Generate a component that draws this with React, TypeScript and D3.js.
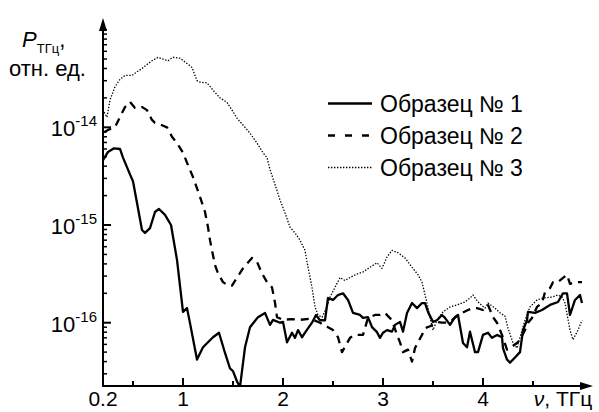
import React from 'react';
import * as d3 from 'd3';

// ν, THz and P (rel. units) for each sample
const nu1 = [0.2, 0.25, 0.31, 0.37, 0.4, 0.47, 0.5, 0.59, 0.62, 0.67, 0.72, 0.76, 0.82, 0.88, 0.94, 1.0, 1.04, 1.07, 1.14, 1.2, 1.3, 1.36, 1.42, 1.47, 1.5, 1.54, 1.57, 1.62, 1.67, 1.75, 1.82, 1.87, 1.9, 1.97, 2.0, 2.04, 2.09, 2.12, 2.15, 2.19, 2.22, 2.29, 2.33, 2.37, 2.42, 2.45, 2.5, 2.55, 2.6, 2.65, 2.7, 2.77, 2.8, 2.85, 2.89, 2.94, 2.97, 3.0, 3.04, 3.09, 3.12, 3.17, 3.2, 3.24, 3.29, 3.34, 3.39, 3.42, 3.45, 3.5, 3.54, 3.59, 3.62, 3.67, 3.72, 3.75, 3.8, 3.84, 3.87, 3.92, 3.95, 4.0, 4.05, 4.09, 4.14, 4.19, 4.2, 4.24, 4.27, 4.32, 4.37, 4.4, 4.44, 4.45, 4.52, 4.59, 4.67, 4.75, 4.8, 4.84, 4.87, 4.92, 4.97, 4.99];
const p1 = [4.6e-15, 5.6e-15, 6.1e-15, 6.0e-15, 4.9e-15, 3.3e-15, 2.8e-15, 8.9e-16, 8.3e-16, 9.3e-16, 1.36e-15, 1.46e-15, 1.27e-15, 1.0e-15, 4.4e-16, 1.29e-16, 1.41e-16, 9.9e-17, 4.2e-17, 5.6e-17, 7.1e-17, 7.9e-17, 4.9e-17, 3.4e-17, 3.2e-17, 2.5e-17, 2.2e-17, 5.6e-17, 9.0e-17, 1.14e-16, 1.26e-16, 9.5e-17, 1.07e-16, 1.0e-16, 1.02e-16, 6.3e-17, 7.9e-17, 7.0e-17, 8.4e-17, 7.1e-17, 7.9e-17, 1.0e-16, 1.2e-16, 1.06e-16, 1.06e-16, 1.79e-16, 1.71e-16, 1.92e-16, 2.0e-16, 1.71e-16, 1.26e-16, 1.2e-16, 1.12e-16, 1.14e-16, 9.0e-17, 8.0e-17, 7.0e-17, 7.9e-17, 8.4e-17, 8.1e-17, 9.5e-17, 1.02e-16, 8.1e-17, 1.26e-16, 1.59e-16, 1.41e-16, 1.59e-16, 1.59e-16, 1.29e-16, 1.02e-16, 1.06e-16, 1.2e-16, 1.12e-16, 9.5e-17, 1.14e-16, 1.2e-16, 6.2e-17, 5.6e-17, 8.1e-17, 5.0e-17, 5.0e-17, 7.5e-17, 7.9e-17, 7.0e-17, 7.5e-17, 7.1e-17, 5.5e-17, 4.2e-17, 3.9e-17, 4.4e-17, 5.0e-17, 8.4e-17, 1.06e-16, 1.29e-16, 1.26e-16, 1.35e-16, 1.52e-16, 1.63e-16, 2.0e-16, 2.0e-16, 1.2e-16, 1.71e-16, 1.92e-16, 1.59e-16];

const nu2 = [0.21, 0.25, 0.32, 0.37, 0.42, 0.47, 0.52, 0.59, 0.64, 0.69, 0.72, 0.79, 0.84, 0.89, 0.94, 1.0, 1.05, 1.1, 1.17, 1.22, 1.25, 1.27, 1.29, 1.32, 1.35, 1.4, 1.45, 1.49, 1.54, 1.6, 1.69, 1.74, 1.79, 1.84, 1.89, 1.92, 1.94, 2.0, 2.09, 2.17, 2.27, 2.37, 2.45, 2.5, 2.55, 2.59, 2.63, 2.67, 2.72, 2.8, 2.85, 2.92, 2.97, 3.02, 3.09, 3.14, 3.17, 3.2, 3.25, 3.29, 3.32, 3.35, 3.39, 3.42, 3.47, 3.54, 3.59, 3.64, 3.69, 3.75, 3.79, 3.85, 3.9, 3.94, 4.0, 4.05, 4.1, 4.14, 4.19, 4.24, 4.27, 4.34, 4.37, 4.42, 4.45, 4.49, 4.54, 4.59, 4.62, 4.67, 4.7, 4.75, 4.8, 4.84, 4.87, 4.92, 4.99];
const p2 = [8.9e-15, 9.4e-15, 1.0e-14, 1.28e-14, 1.61e-14, 1.82e-14, 1.58e-14, 1.61e-14, 1.5e-14, 1.19e-14, 1.11e-14, 1.05e-14, 1.0e-14, 8.0e-15, 6.9e-15, 5.5e-15, 4.1e-15, 3.1e-15, 1.94e-15, 1.36e-15, 9.5e-16, 7.0e-16, 5.5e-16, 3.9e-16, 3.2e-16, 2.6e-16, 2.4e-16, 2.4e-16, 2.9e-16, 3.6e-16, 4.6e-16, 4.2e-16, 3.2e-16, 2.6e-16, 2.3e-16, 1.6e-16, 1.14e-16, 1.07e-16, 1.09e-16, 1.07e-16, 1.1e-16, 1.0e-16, 9.0e-17, 8.4e-17, 7.1e-17, 5.0e-17, 5.9e-17, 7.0e-17, 7.5e-17, 7.5e-17, 1.12e-16, 1.2e-16, 1.2e-16, 1.26e-16, 1.06e-16, 7.5e-17, 6.3e-17, 5.0e-17, 5.3e-17, 4.0e-17, 5.5e-17, 6.3e-17, 7.5e-17, 8.8e-17, 9.2e-17, 1.02e-16, 1.0e-16, 1.0e-16, 1.06e-16, 1.2e-16, 1.26e-16, 1.35e-16, 1.41e-16, 1.41e-16, 1.35e-16, 1.52e-16, 1.14e-16, 1.0e-16, 7.5e-17, 5.3e-17, 5.5e-17, 6.2e-17, 6.7e-17, 8.4e-17, 1.0e-16, 1.12e-16, 1.45e-16, 1.59e-16, 2.06e-16, 2.26e-16, 2.6e-16, 2.6e-16, 2.87e-16, 3.1e-16, 2.5e-16, 2.6e-16, 2.6e-16];

const nu3 = [0.21, 0.24, 0.27, 0.32, 0.37, 0.42, 0.49, 0.54, 0.59, 0.64, 0.69, 0.75, 0.8, 0.85, 0.9, 0.97, 1.04, 1.09, 1.14, 1.17, 1.24, 1.3, 1.37, 1.44, 1.49, 1.54, 1.62, 1.67, 1.74, 1.8, 1.84, 1.87, 1.92, 1.97, 2.02, 2.07, 2.12, 2.17, 2.22, 2.25, 2.29, 2.32, 2.35, 2.39, 2.44, 2.47, 2.52, 2.57, 2.62, 2.67, 2.74, 2.8, 2.87, 2.94, 2.99, 3.04, 3.09, 3.15, 3.22, 3.29, 3.35, 3.39, 3.44, 3.47, 3.5, 3.54, 3.6, 3.67, 3.74, 3.82, 3.87, 3.9, 3.95, 4.02, 4.05, 4.12, 4.17, 4.22, 4.25, 4.3, 4.34, 4.37, 4.42, 4.47, 4.54, 4.6, 4.69, 4.75, 4.79, 4.82, 4.87, 4.9, 4.95, 4.99];
const p3 = [1.43e-14, 1.27e-14, 1.9e-14, 2.6e-14, 3.1e-14, 3.4e-14, 3.4e-14, 3.7e-14, 4.0e-14, 4.4e-14, 4.8e-14, 5.2e-14, 5.0e-14, 4.8e-14, 5.2e-14, 5.1e-14, 4.5e-14, 4.1e-14, 3.0e-14, 2.9e-14, 2.85e-14, 2.4e-14, 2.0e-14, 1.8e-14, 1.5e-14, 1.24e-14, 1.0e-14, 8.7e-15, 6.9e-15, 5.5e-15, 4.9e-15, 3.7e-15, 2.6e-15, 1.8e-15, 1.33e-15, 9.5e-16, 8.3e-16, 7.0e-16, 5.5e-16, 3.7e-16, 2.3e-16, 1.45e-16, 1.2e-16, 1.14e-16, 1.45e-16, 1.83e-16, 2.3e-16, 2.9e-16, 2.7e-16, 2.9e-16, 3.15e-16, 3.3e-16, 3.7e-16, 4.1e-16, 3.6e-16, 4.7e-16, 5.5e-16, 5.2e-16, 4.6e-16, 3.7e-16, 3.1e-16, 2.6e-16, 1.59e-16, 1.14e-16, 8.4e-17, 1.06e-16, 1.29e-16, 1.45e-16, 1.52e-16, 1.63e-16, 1.79e-16, 1.92e-16, 1.63e-16, 1.41e-16, 1.59e-16, 1.41e-16, 1.26e-16, 1.17e-16, 8.8e-17, 6.2e-17, 5.5e-17, 7.1e-17, 1.06e-16, 1.45e-16, 1.71e-16, 1.79e-16, 1.83e-16, 1.92e-16, 1.83e-16, 1.59e-16, 8.4e-17, 6.7e-17, 8.4e-17, 1.06e-16];

const seriesNames = ['Образец № 1', 'Образец № 2', 'Образец № 3'];
const xMajor = [1, 2, 3, 4];
const xMinor = [0.5, 1.5, 2.5, 3.5, 4.5];
const yMajor = [1e-16, 1e-15, 1e-14];
const yExp = ['-16', '-15', '-14'];

const W = 599;
const H = 412;
const FONT = '"Liberation Sans", Arial, sans-serif';

const x = d3.scaleLinear().domain([0.2, 5.1]).range([103, 593]);
const y = d3.scaleLog().domain([2.25e-17, 1.315e-13]).range([386, 18]);

// dash styles of the three samples
const styles = [
  { width: 2.3, dash: null },
  { width: 2.3, dash: '8,6' },
  { width: 1.3, dash: '1.4,1.6' },
];

const series = [
  nu1.map((v, i) => [v, p1[i]]),
  nu2.map((v, i) => [v, p2[i]]),
  nu3.map((v, i) => [v, p3[i]]),
];

const line = d3.line<number[]>()
  .x(d => x(d[0]))
  .y(d => y(d[1]));

export default function App() {
  const x0 = x(0.2);
  const y0 = y.range()[0];
  const yTop = y.range()[1];
  const xEnd = x.range()[1];

  // minor log ticks
  const yMinor: number[] = [];
  for (let k = -17; k <= -14; k++) {
    for (let m = 2; m <= 9; m++) {
      const v = m * Math.pow(10, k);
      if (v > y.domain()[0] && y(v) > yTop + 10) yMinor.push(v);
    }
  }
  yMinor.push(1e-13);

  return (
    <svg width={W} height={H} style={{ position: 'absolute', left: 0, top: 0, background: '#fff' }}
      fontFamily={FONT}>
      <defs>
        <clipPath id="plot">
          <rect x={x0} y={yTop} width={xEnd - x0} height={y0 - yTop} />
        </clipPath>
      </defs>

      {/* curves */}
      <g clipPath="url(#plot)" fill="none" stroke="#000">
        {series.map((s, i) => (
          <path key={i} d={line(s) || ''} strokeWidth={styles[i].width}
            strokeDasharray={styles[i].dash || undefined} strokeLinejoin="round" />
        ))}
      </g>

      {/* axes */}
      <g stroke="#000">
        <line x1={x0} y1={y0} x2={x0} y2={yTop + 8} strokeWidth={2} />
        <line x1={x0 - 1} y1={y0} x2={xEnd - 8} y2={y0} strokeWidth={2} />
        {xMajor.map(v => (
          <line key={'xm' + v} x1={x(v)} x2={x(v)} y1={y0} y2={y0 - 8} strokeWidth={2} />
        ))}
        {xMinor.map(v => (
          <line key={'xn' + v} x1={x(v)} x2={x(v)} y1={y0} y2={y0 - 5} strokeWidth={2} />
        ))}
        {yMajor.map(v => (
          <line key={'ym' + v} x1={x0} x2={x0 + 8} y1={y(v)} y2={y(v)} strokeWidth={2} />
        ))}
        {yMinor.map(v => (
          <line key={'yn' + v} x1={x0} x2={x0 + 4} y1={y(v)} y2={y(v)} strokeWidth={1.5} />
        ))}
      </g>
      <path d={`M${x0},${yTop} L${x0 - 4},${yTop + 13} L${x0 + 4},${yTop + 13} Z`} fill="#000" />
      <path d={`M${xEnd},${y0} L${xEnd - 13},${y0 - 4} L${xEnd - 13},${y0 + 4} Z`} fill="#000" />

      {/* x tick labels */}
      <g fontSize={21} textAnchor="middle" fill="#000">
        <text x={x0} y={406}>0.2</text>
        {xMajor.map(v => (
          <text key={'xl' + v} x={x(v)} y={406}>{v}</text>
        ))}
      </g>
      <text x={563} y={406} fontSize={21} textAnchor="middle" fill="#000">
        <tspan fontStyle="italic">ν</tspan>, ТГц
      </text>

      {/* y tick labels */}
      <g fill="#000" textAnchor="end">
        {yMajor.map((v, i) => (
          <text key={'yl' + v} x={97} y={y(v) + 9} fontSize={22}>
            10<tspan fontSize={15} dy={-10}>{yExp[i]}</tspan>
          </text>
        ))}
      </g>

      {/* y axis title */}
      <text x={22} y={47} fontSize={22} fill="#000">
        <tspan fontStyle="italic">P</tspan>
        <tspan fontSize={13} dy={6}>ТГц</tspan>
        <tspan dy={-6}>,</tspan>
      </text>
      <text x={9} y={76} fontSize={22} fill="#000">отн. ед.</text>

      {/* legend */}
      {seriesNames.map((name, i) => {
        const ly = 103.5 + i * 32;
        return (
          <g key={name}>
            <line x1={328} x2={372} y1={ly} y2={ly} stroke="#000" strokeWidth={styles[i].width}
              strokeDasharray={i === 1 ? '7,10' : styles[i].dash || undefined} />
            <text x={380} y={ly + 8} fontSize={23} fill="#000">{name}</text>
          </g>
        );
      })}
    </svg>
  );
}
